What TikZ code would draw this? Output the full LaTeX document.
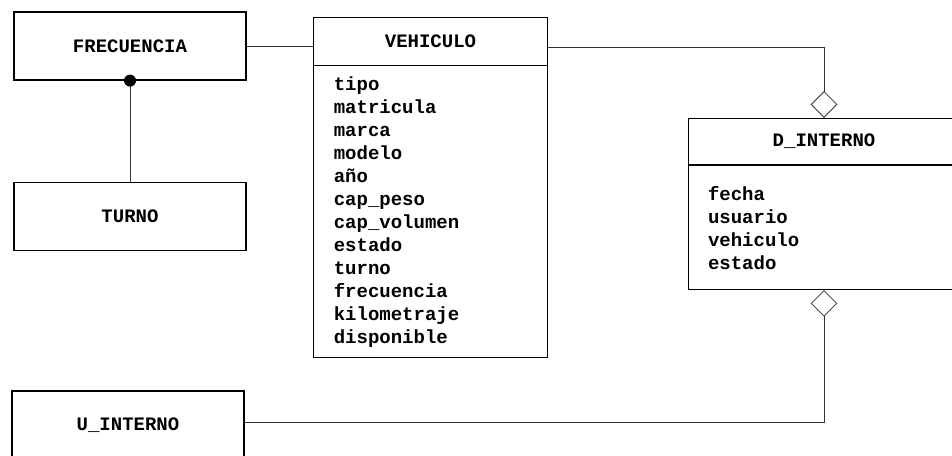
\documentclass[tikz,border=0pt]{standalone}
\usepackage{fontspec}
\setmonofont{Liberation Mono}
\usetikzlibrary{positioning,arrows.meta}

\begin{document}
\begin{tikzpicture}[x=0.75pt, y=-0.75pt, node distance=0pt,
    every node/.style={font=\ttfamily\bfseries\fontsize{14.25}{17.25}\selectfont},
    entity/.style={draw, line width=0.9pt, minimum width=174pt, minimum height=51pt},
    classhead/.style={draw, line width=0.6pt, minimum width=#1, minimum height=36pt},
    classbody/.style={draw, line width=0.6pt, minimum width=#1, align=left,
      text width=#1-30pt, inner xsep=15pt},
    link/.style={line width=0.6pt, draw=black!80},
    aggr/.tip={Diamond[open, length=20pt, width=20pt, line width=0.6pt]}]
  \useasboundingbox (0,0) rectangle (952,455);

  % Nodes
  \node[entity] (frec) at (130,46) {FRECUENCIA};
  \node[entity] (turno) at (130,216.5) {TURNO};
  \node[entity] (uint) at (128,425) {U\_INTERNO};

  \node[classhead=175pt] (vehhead) at (430.5,41) {VEHICULO};
  \node[classbody=175pt, minimum height=219pt, below=of vehhead] (vehbody)
    {tipo\\matricula\\marca\\modelo\\año\\cap\_peso\\cap\_volumen\\estado\\turno\\frecuencia\\kilometraje\\disponible};

  \node[classhead=204pt, minimum height=35pt] (dinthead) at (824,141.5) {D\_INTERNO};
  \node[classbody=204pt, minimum height=93pt, below=of dinthead] (dintbody)
    {fecha\\usuario\\vehiculo\\estado};

  % Arrows
  \draw[link] (frec.east) -- (frec.east -| vehhead.west);
  \draw[link] (frec.south) -- (turno.north);
  \fill (frec.south) circle (6);
  \draw[link, -aggr] ([yshift=-4.5pt]vehhead.east) -| (dinthead.north);
  \draw[link, aggr-] (dintbody.south) |- ([yshift=2.25pt]uint.east);
\end{tikzpicture}
\end{document}
